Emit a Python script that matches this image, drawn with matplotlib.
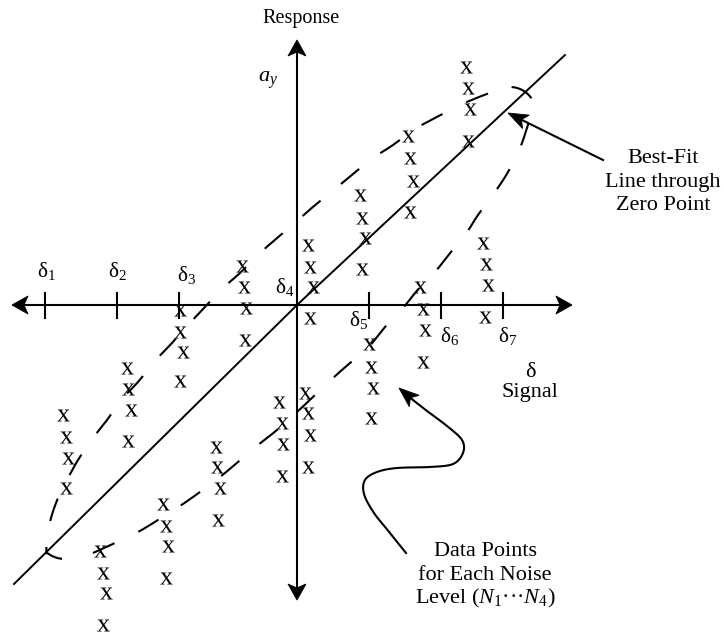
import numpy as np
import matplotlib.pyplot as plt
from matplotlib.patches import Polygon

plt.rcParams['font.family'] = ['Liberation Serif', 'DejaVu Serif']
plt.rcParams['mathtext.fontset'] = 'custom'
plt.rcParams['mathtext.rm'] = 'Liberation Serif'
plt.rcParams['mathtext.it'] = 'Liberation Serif:italic'
plt.rcParams['lines.scale_dashes'] = False

# layout is in pixel units: x to the right, y downwards, origin at (297, 305)
origin = (297, 305)

# signal levels delta_1 .. delta_7 on the horizontal axis
delta_x = [45, 117, 179, 297, 369, 441, 503]
delta_label_pos = [(37, 277), (108, 277), (177, 281), (275, 293),
                   (349, 326), (440, 342), (498, 342)]

# responses: one column of four noise levels per group
col_x = [
    [63, 66, 68, 66], [100, 103, 106, 103], [127, 128, 131, 128],
    [163, 166, 168, 166], [180, 180, 183, 180], [216, 217, 220, 218],
    [242, 244, 246, 245], [279, 282, 283, 282], [308, 310, 313, 310],
    [305, 308, 310, 308], [360, 362, 365, 362], [369, 371, 373, 371],
    [408, 410, 413, 410], [420, 423, 425, 423], [466, 468, 470, 468],
    [483, 486, 488, 485],
]
col_y = [
    [415, 437, 458, 488], [551, 573, 593, 625], [368, 389, 410, 441],
    [504, 526, 546, 578], [310, 332, 352, 381], [447, 467, 488, 520],
    [266, 287, 308, 340], [402, 423, 444, 476], [245, 267, 287, 318],
    [393, 413, 435, 467], [195, 218, 238, 269], [344, 367, 388, 418],
    [136, 158, 181, 212], [287, 309, 330, 362], [67, 88, 109, 141],
    [243, 264, 285, 317],
]

# best-fit line through zero
fit_x = [14, 297, 565]
fit_y = [584, 305, 55]

# dashed envelope around the scatter
lower_branch = [(93, 553), (115, 543), (138, 532), (158, 520), (180, 506),
                (200, 492), (220, 477), (238, 462), (258, 445), (277, 430),
                (297, 412), (313, 397), (333, 378), (350, 363), (367, 349),
                (385, 327), (403, 308), (420, 287), (435, 272), (450, 253),
                (467, 232), (478, 215), (495, 192), (508, 172), (520, 148),
                (527, 128), (532, 112)]
upper_branch = [(479, 97), (458, 106), (435, 118), (415, 129), (393, 145),
                (373, 158), (353, 174), (335, 189), (314, 206), (297, 221),
                (277, 238), (259, 254), (240, 273), (223, 288), (205, 307),
                (188, 325), (172, 343), (155, 361), (138, 382), (123, 398),
                (107, 420), (93, 438), (78, 460), (67, 480), (58, 498),
                (51, 518), (47, 538)]

# curved pointer to the data points
curl = [(406, 553), (390, 533), (374, 513), (364, 494), (365, 480),
        (377, 472), (397, 468), (430, 467), (453, 464), (463, 453),
        (462, 440), (447, 426), (427, 411), (408, 396)]


def arc(cx, cy, r, a0, a1, n=30):
    t = np.radians(np.linspace(a0, a1, n))
    return list(zip(cx + r * np.cos(t), cy + r * np.sin(t)))


def smooth(pts, k=8):
    # Catmull-Rom through the given points
    p = np.array(pts, float)
    p = np.vstack([p[0], p, p[-1]])
    out = []
    for i in range(1, len(p) - 2):
        p0, p1, p2, p3 = p[i - 1], p[i], p[i + 1], p[i + 2]
        for t in np.linspace(0, 1, k, endpoint=False):
            out.append(0.5 * ((2 * p1) + (-p0 + p2) * t
                              + (2 * p0 - 5 * p1 + 4 * p2 - p3) * t ** 2
                              + (-p0 + 3 * p1 - 3 * p2 + p3) * t ** 3))
    out.append(p[-2])
    return np.array(out)


def head(ax, tip, back, length=16, width=18, notch=4):
    tip = np.array(tip, float)
    back = np.array(back, float)
    u = (tip - back) / np.hypot(*(tip - back))
    n = np.array([-u[1], u[0]])
    base = tip - u * length
    pts = [tip, base + n * width / 2, tip - u * (length - notch), base - n * width / 2]
    ax.add_patch(Polygon(pts, closed=True, fc='black', ec='black', lw=0.6, zorder=5))


fig = plt.figure(figsize=(7.24, 6.33), dpi=100)
ax = fig.add_axes([0, 0, 1, 1])
ax.set_xlim(0, 724)
ax.set_ylim(633, 0)
ax.axis('off')

# axes with arrowheads at both ends
ax.plot([22, 562], [305, 305], color='black', lw=1.5)
ax.plot([297, 297], [50, 590], color='black', lw=1.5)
head(ax, (12, 305), (40, 305))
head(ax, (572, 305), (540, 305))
head(ax, (297, 40), (297, 70))
head(ax, (297, 600), (297, 570))

for i, x in enumerate(delta_x):
    if x != origin[0]:
        ax.plot([x, x], [293, 318], color='black', lw=1.5)
    lx, ly = delta_label_pos[i]
    ax.text(lx, ly, r'$\mathrm{δ}_{%d}$' % (i + 1), fontsize=15.5,
            ha='left', va='baseline')

# best-fit line and dashed envelope
ax.plot(fit_x, fit_y, color='black', lw=1.4)
loop = (lower_branch + arc(510, 113, 26, -22, -106) + upper_branch
        + arc(65, 530, 29, 130, 84))
env = smooth(loop, 4)
ax.plot(env[:, 0], env[:, 1], color='black', lw=1.5, dashes=(17, 19),
        solid_capstyle='butt', dash_capstyle='butt')

# data points
for xs, ys in zip(col_x, col_y):
    ax.plot(xs, ys, ls='none', marker=r'$\mathrm{x}$', ms=9, mew=0,
            color='black', zorder=4)

# pointer to the best-fit line
ax.plot([603, 522], [160, 120], color='black', lw=1.5)
head(ax, (508, 113), (603, 160), length=20, width=15, notch=5)

# curled pointer to the data points
c = smooth(curl, 10)
ax.plot(c[:, 0], c[:, 1], color='black', lw=1.5)
head(ax, (399, 388), (420, 406), length=20, width=15, notch=5)

# labels
ax.text(301, 23, 'Response', fontsize=14.5, ha='center', va='baseline')
ax.text(258, 82, r'$a_y$', fontsize=16, ha='left', va='baseline')
ax.text(530, 377, 'δ', fontsize=16, ha='center', va='baseline')
ax.text(530, 397, 'Signal', fontsize=16, ha='center', va='baseline')
for j, line in enumerate(['Best-Fit', 'Line through', 'Zero Point']):
    ax.text(663, 163 + 23.5 * j, line, fontsize=16, ha='center', va='baseline')
for j, line in enumerate(['Data Points', 'for Each Noise',
                          r'Level ($N_1$···$N_4$)']):
    ax.text(485, 556 + 23.5 * j, line, fontsize=16, ha='center', va='baseline')

fig.savefig('out.png', dpi=100)
